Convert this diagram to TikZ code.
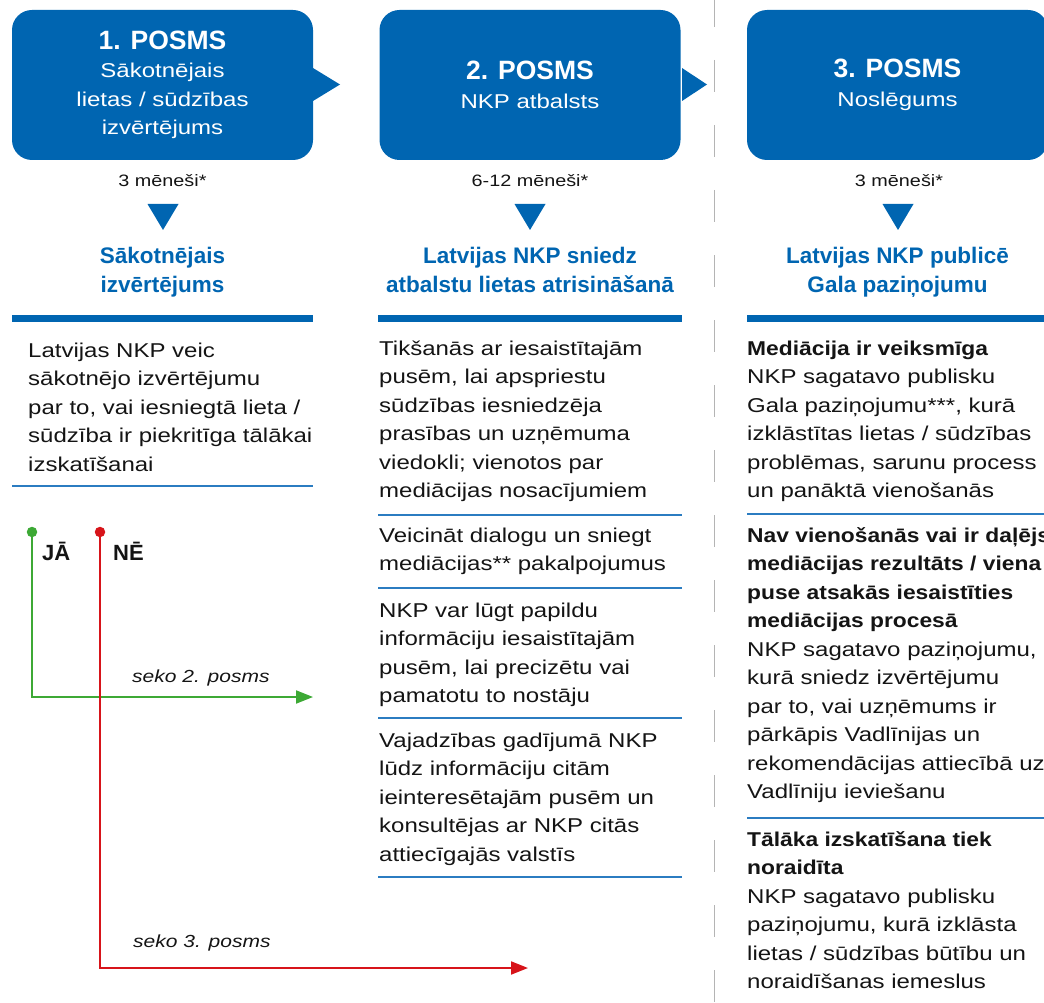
\documentclass[tikz,border=0pt]{standalone}
\usepackage{fontspec}
\setmainfont{Liberation Sans}[UprightFeatures={FakeStretch=1.2}, BoldFeatures={FakeStretch=1.14}, ItalicFeatures={FakeStretch=1.2}]
\newfontfamily\headfont{Liberation Sans}
\usepackage{tikz}
\usetikzlibrary{positioning, arrows.meta}
\usepackage{color}

\definecolor{nkpblue}{HTML}{0065B1}
\definecolor{ruleblue}{HTML}{2B7CC1}
\definecolor{jagreen}{HTML}{3DA935}
\definecolor{nered}{HTML}{D7141A}
\definecolor{ink}{HTML}{141414}
\definecolor{sepgray}{HTML}{B4B4B4}

\newcommand{\posmstitle}[1]{{\headfont\bfseries\fontsize{26.5}{30}\selectfont #1}}

\begin{document}
\begin{tikzpicture}[x=1pt, y=-1pt,
	stage/.style={fill=nkpblue, rounded corners=20pt, minimum width=301pt, minimum height=150pt, inner sep=0pt, text=white, align=center, font=\fontsize{20}{28.5}\selectfont},
	months/.style={anchor=base, inner sep=0pt, text=ink, font=\fontsize{16.5}{20}\selectfont},
	heading/.style={anchor=base, inner sep=0pt, align=center, text=nkpblue, font=\headfont\bfseries\fontsize{22.5}{29.5}\selectfont},
	body/.style={anchor=base west, inner sep=0pt, align=left, text=ink, font=\fontsize{20}{28.5}\selectfont},
	thickbar/.style={nkpblue, line width=6.5pt},
	thinrule/.style={ruleblue, line width=1.6pt},
	dot/.style={circle, inner sep=0pt, minimum size=10.5pt},
	answer/.style={anchor=base west, inner sep=0pt, text=ink, font=\headfont\bfseries\fontsize{22}{26}\selectfont},
	follow/.style={anchor=base west, inner sep=0pt, text=ink, font=\itshape\fontsize{17.5}{20}\selectfont},
	flow/.style={line width=2pt, -{Triangle[length=17pt, width=13pt]}}]

	\useasboundingbox (0,0) rectangle (1044,1003);

	\draw[sepgray, line width=1pt, dash pattern=on 32pt off 33pt, dash phase=5pt] (714,0) -- (714,1003);

	\node[stage] (posms1) at (162.5,85) {\posmstitle{1. POSMS}\\Sākotnējais\\lietas / sūdzības\\izvērtējums};
	\node[stage] (posms2) at (530,85) {\posmstitle{2. POSMS}\\NKP atbalsts};
	\node[stage] (posms3) at (897.5,85) {\posmstitle{3. POSMS}\\Noslēgums};

	\fill[nkpblue] (313,68) -- (340,84.5) -- (313,101) -- cycle;
	\fill[nkpblue] (682,68) -- (707,84.5) -- (682,101) -- cycle;

	\node[months] (dur1) at (162.5,187) {3 mēneši*};
	\node[months] (dur2) at (530,187) {6-12 mēneši*};
	\node[months] (dur3) at (899,187) {3 mēneši*};

	\fill[nkpblue] (147.5,204) -- (178.5,204) -- (163,230) -- cycle;
	\fill[nkpblue] (514.5,204) -- (545.5,204) -- (530,230) -- cycle;
	\fill[nkpblue] (882.5,204) -- (913.5,204) -- (898,230) -- cycle;

	\node[heading] (head1) at (162.5,292.5) {Sākotnējais\\izvērtējums};
	\node[heading] (head2) at (530,292.5) {Latvijas NKP sniedz\\atbalstu lietas atrisināšanā};
	\node[heading] (head3) at (897.5,292.5) {Latvijas NKP publicē\\Gala paziņojumu};

	\draw[thickbar] (12,318.5) -- (313,318.5);
	\draw[thickbar] (378,318.5) -- (682,318.5);
	\draw[thickbar] (747,318.5) -- (1048,318.5);

	\node[body] (info1) at (28,471) {Latvijas NKP veic\\sākotnējo izvērtējumu\\par to, vai iesniegtā lieta /\\sūdzība ir piekritīga tālākai\\izskatīšanai};
	\draw[thinrule] (12,486) -- (313,486);

	\node[body] (meet) at (379,497.5) {Tikšanās ar iesaistītajām\\pusēm, lai apspriestu\\sūdzības iesniedzēja\\prasības un uzņēmuma\\viedokli; vienotos par\\mediācijas nosacījumiem};
	\draw[thinrule] (378,515) -- (682,515);
	\node[body] (dialog) at (379,570.5) {Veicināt dialogu un sniegt\\mediācijas** pakalpojumus};
	\draw[thinrule] (378,588) -- (682,588);
	\node[body] (askinfo) at (379,702.5) {NKP var lūgt papildu\\informāciju iesaistītajām\\pusēm, lai precizētu vai\\pamatotu to nostāju};
	\draw[thinrule] (378,718) -- (682,718);
	\node[body] (consult) at (379,861) {Vajadzības gadījumā NKP\\lūdz informāciju citām\\ieinteresētajām pusēm un\\konsultējas ar NKP citās\\attiecīgajās valstīs};
	\draw[thinrule] (378,877) -- (682,877);

	\node[body] (success) at (747,497.5) {\textbf{Mediācija ir veiksmīga}\\NKP sagatavo publisku\\Gala paziņojumu***, kurā\\izklāstītas lietas / sūdzības\\problēmas, sarunu process\\un panāktā vienošanās};
	\draw[thinrule] (747,514) -- (1048,514);
	\node[body] (partial) at (747,798.5) {\textbf{Nav vienošanās vai ir daļējs}\\\textbf{mediācijas rezultāts / viena}\\\textbf{puse atsakās iesaistīties}\\\textbf{mediācijas procesā}\\NKP sagatavo paziņojumu,\\kurā sniedz izvērtējumu\\par to, vai uzņēmums ir\\pārkāpis Vadlīnijas un\\rekomendācijas attiecībā uz\\Vadlīniju ieviešanu};
	\draw[thinrule] (747,818) -- (1048,818);
	\node[body] (rejected) at (747,988.5) {\textbf{Tālāka izskatīšana tiek}\\\textbf{noraidīta}\\NKP sagatavo publisku\\paziņojumu, kurā izklāsta\\lietas / sūdzības būtību un\\noraidīšanas iemeslus};

	\node[dot, fill=jagreen] (ja) at (32,532) {};
	\node[dot, fill=nered] (ne) at (100,532) {};
	\node[answer] (jaText) at (42,560) {JĀ};
	\node[answer] (neText) at (113,560) {NĒ};

	\coordinate (toPosms2) at (313,697);
	\coordinate (toPosms3) at (528,968);
	\draw[flow, jagreen] (ja.center) |- (toPosms2);
	\draw[flow, nered] (ne.center) |- (toPosms3);

	\node[follow] (seko2) at (132,682) {seko 2. posms};
	\node[follow] (seko3) at (133,947) {seko 3. posms};

\end{tikzpicture}
\end{document}
